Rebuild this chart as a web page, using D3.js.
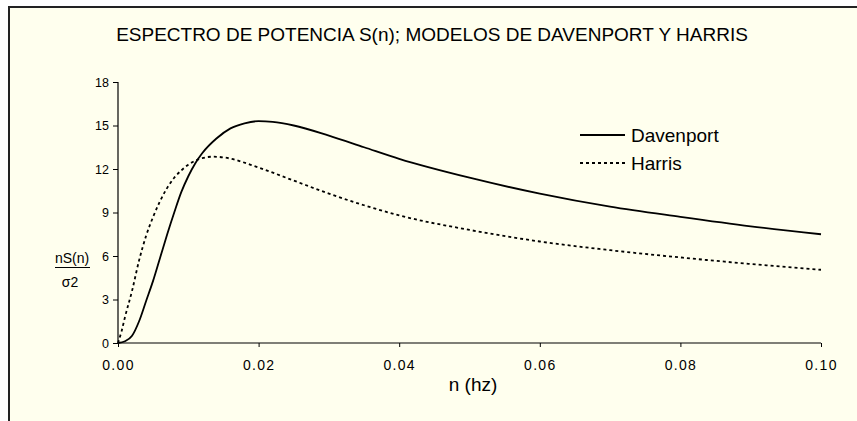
<!DOCTYPE html>
<html>
<head>
<meta charset="utf-8">
<script src="https://cdn.jsdelivr.net/npm/d3@7"></script>
<style>
html,body{margin:0;padding:0;background:#ffffff;}
svg{display:block;}
text{font-family:Arial,"Liberation Sans",sans-serif;fill:#000;}
</style>
</head>
<body>
<svg id="chart" width="857" height="421"></svg>
<script>
const title = "ESPECTRO DE POTENCIA S(n); MODELOS DE DAVENPORT Y HARRIS";
const xLabel = "n (hz)";
const yLabelTop = "nS(n)";
const yLabelBottom = "\u03c32";
const seriesNames = ["Davenport", "Harris"];
const xTicks = [0, 0.02, 0.04, 0.06, 0.08, 0.10];
const yTicks = [0, 3, 6, 9, 12, 15, 18];

const davenportN = [0, 0.001, 0.002, 0.003, 0.004, 0.005, 0.006, 0.007, 0.008, 0.009, 0.010, 0.011, 0.012, 0.014, 0.016, 0.018, 0.020, 0.022, 0.025, 0.030, 0.035, 0.040, 0.050, 0.060, 0.070, 0.080, 0.090, 0.100];
const davenportV = [0, 0.12, 0.5, 1.5, 2.9, 4.3, 5.9, 7.5, 9.0, 10.4, 11.5, 12.4, 13.1, 14.1, 14.8, 15.15, 15.3, 15.25, 15.0, 14.3, 13.5, 12.7, 11.4, 10.3, 9.4, 8.7, 8.05, 7.5];

const harrisN = [0, 0.0005, 0.001, 0.002, 0.003, 0.004, 0.005, 0.006, 0.007, 0.008, 0.009, 0.010, 0.012, 0.0135, 0.015, 0.020, 0.025, 0.030, 0.035, 0.040, 0.050, 0.060, 0.070, 0.080, 0.090, 0.100];
const harrisV = [0, 0.8, 1.8, 3.6, 5.7, 7.4, 8.7, 9.8, 10.7, 11.4, 11.9, 12.3, 12.75, 12.85, 12.8, 12.1, 11.2, 10.3, 9.5, 8.8, 7.8, 7.0, 6.4, 5.9, 5.45, 5.05];

const svg = d3.select("#chart");
const W = 857, H = 421;

// chart area background & frame
svg.append("rect").attr("x", 9).attr("y", 7).attr("width", W).attr("height", H)
  .attr("fill", "#ffffee");
svg.append("path").attr("d", `M9,${H} L9,7 L${W},7`)
  .attr("fill", "none").attr("stroke", "#222").attr("stroke-width", 2);

const x = d3.scaleLinear().domain([0, 0.1]).range([118, 821]);
const y = d3.scaleLinear().domain([0, 18]).range([343, 82]);

// title
svg.append("text").attr("x", 432).attr("y", 41).attr("text-anchor", "middle")
  .style("font-size", "19px").text(title);

// axes
const yAxis = d3.axisLeft(y).tickValues(yTicks).tickFormat(d3.format("d")).tickSize(5).tickPadding(4);
const gy = svg.append("g").attr("transform", `translate(${x(0)},0)`).call(yAxis);
gy.selectAll("text").style("font-size", "12.5px").style("font-family", "Arial, 'Liberation Sans', sans-serif");

const xAxis = d3.axisBottom(x).tickValues(xTicks).tickFormat(d3.format(".2f")).tickSize(4).tickPadding(13);
const gx = svg.append("g").attr("transform", `translate(0,${y(0)})`).call(xAxis);
gx.selectAll("text").style("font-size", "14px").style("letter-spacing", "1.3px").style("font-family", "Arial, 'Liberation Sans', sans-serif");

[gx, gy].forEach(g => {
  g.select(".domain").attr("stroke", "#000").attr("stroke-width", 1.2);
  g.selectAll(".tick line").attr("stroke", "#000");
});
gx.select(".domain").attr("d", `M${x(0)},0H${x(0.1)}`);
gx.selectAll(".tick line").attr("y1", 0);
gy.select(".domain").attr("d", `M0,${y(0)}V${y(18)}`);

// lines
const line = d3.line().x(d => x(d[0])).y(d => y(d[1])).curve(d3.curveMonotoneX);
svg.append("path").datum(d3.zip(davenportN, davenportV))
  .attr("d", line).attr("fill", "none").attr("stroke", "#000").attr("stroke-width", 1.8);
svg.append("path").datum(d3.zip(harrisN, harrisV))
  .attr("d", line).attr("fill", "none").attr("stroke", "#000").attr("stroke-width", 1.8)
  .attr("stroke-dasharray", "3,3");

// legend
const lg = [{name: seriesNames[0], dash: null, yy: 135}, {name: seriesNames[1], dash: "3,3", yy: 163}];
lg.forEach(l => {
  svg.append("line").attr("x1", 580).attr("x2", 625).attr("y1", l.yy).attr("y2", l.yy)
    .attr("stroke", "#000").attr("stroke-width", 1.8).attr("stroke-dasharray", l.dash);
  svg.append("text").attr("x", 631).attr("y", l.yy).attr("dy", "0.35em")
    .style("font-size", "19px").text(l.name);
});

// axis labels
svg.append("text").attr("x", 473).attr("y", 391).attr("text-anchor", "middle")
  .style("font-size", "19px").text(xLabel);
svg.append("text").attr("x", 72).attr("y", 263).attr("text-anchor", "middle")
  .style("font-size", "14px").text(yLabelTop);
svg.append("line").attr("x1", 55).attr("x2", 90).attr("y1", 267.5).attr("y2", 267.5)
  .attr("stroke", "#000").attr("stroke-width", 1);
svg.append("text").attr("x", 70).attr("y", 287).attr("text-anchor", "middle")
  .style("font-size", "14px").text(yLabelBottom);
</script>
</body>
</html>
